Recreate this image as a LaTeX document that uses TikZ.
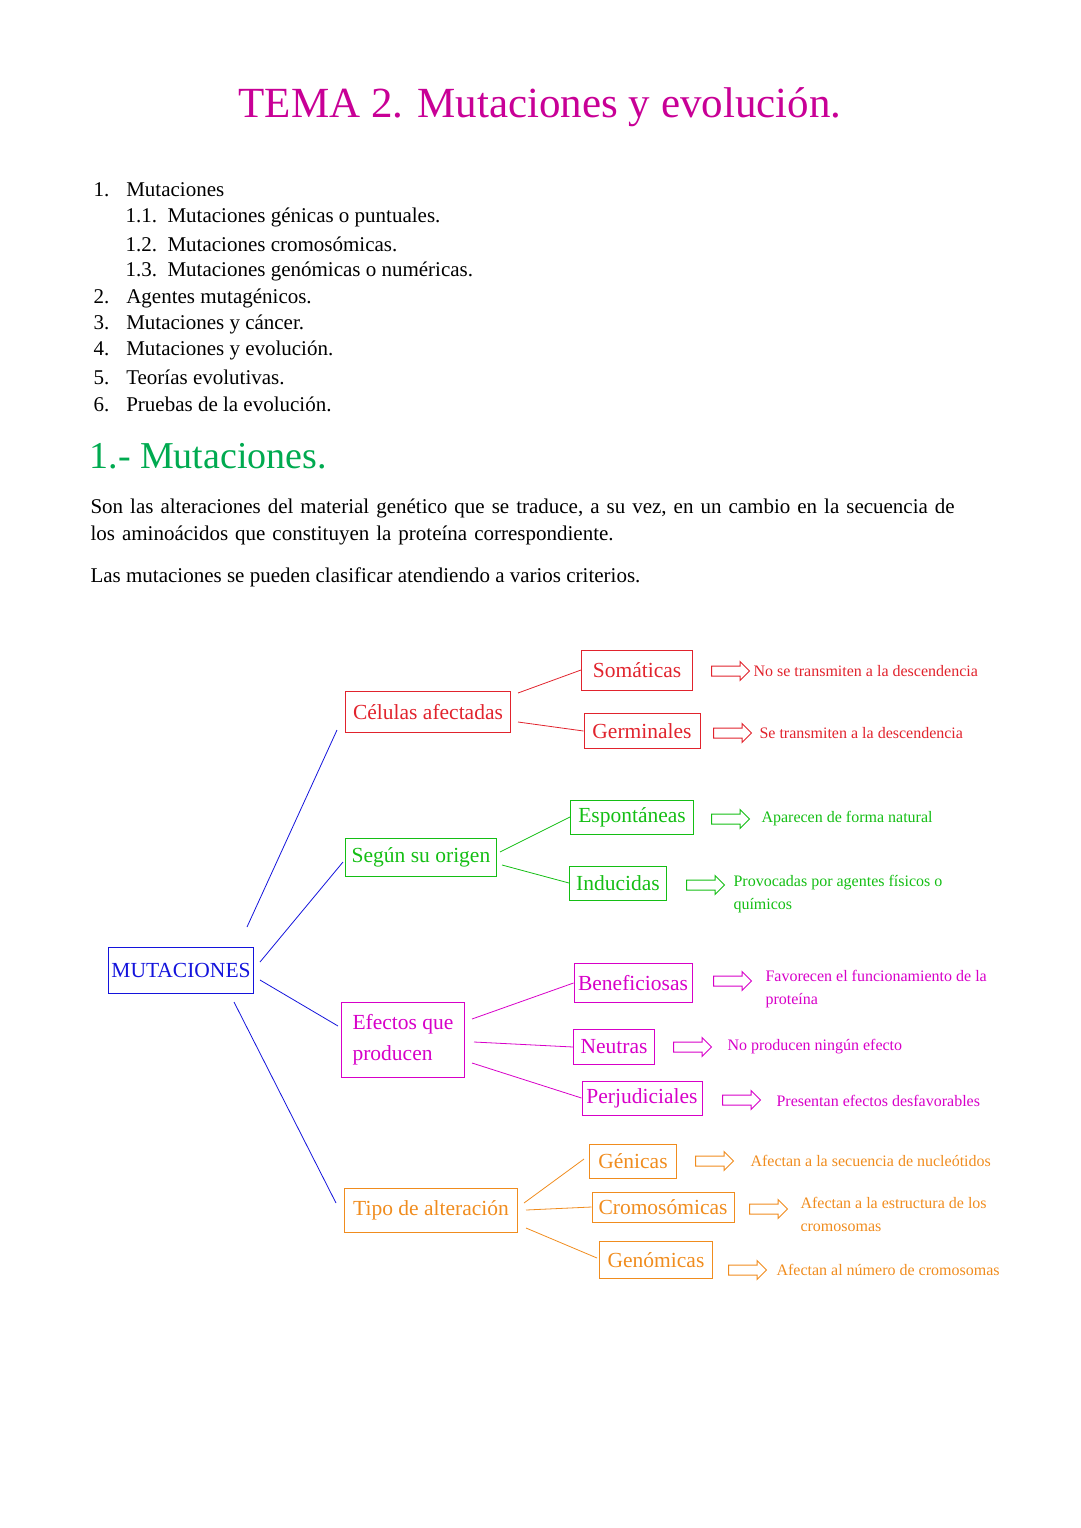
\documentclass[tikz,border=0pt]{standalone}
\usepackage{fontspec}
\setmainfont{Liberation Serif}
\usetikzlibrary{shapes.arrows}
\definecolor{ttl}{RGB}{200,0,150}
\definecolor{hd}{RGB}{0,170,80}
\definecolor{cr}{RGB}{225,35,45}
\definecolor{cg}{RGB}{20,190,20}
\definecolor{cm}{RGB}{215,0,200}
\definecolor{co}{RGB}{240,140,30}
\definecolor{cb}{RGB}{20,20,220}
\tikzset{
 bx/.style={draw=#1,text=#1,line width=1pt,font=\fontsize{21.5}{23}\selectfont,inner sep=3pt,align=left},
 lb/.style={text=#1,font=\fontsize{16}{23}\selectfont,anchor=west,align=left},
 ar/.style={single arrow,draw=#1,line width=1pt,minimum width=19pt,single arrow head extend=4.5pt,minimum height=38pt,inner xsep=0pt,inner ysep=4.5pt},
 ln/.style={draw=#1,line width=0.8pt},
 body/.style={anchor=west,font=\fontsize{21}{27}\selectfont}
}
\begin{document}
\begin{tikzpicture}[x=1pt,y=-1pt]
\useasboundingbox (0,0) rectangle (1080,1528);
\node[text=ttl,font=\fontsize{43}{45}\selectfont] (title) at (540,107) {TEMA 2. Mutaciones y evolución.};
\node[body] (i1) at (90,190) {1.\hspace{17pt}Mutaciones};
\node[body] (i11) at (122,217) {1.1.\ \ Mutaciones génicas o puntuales.};
\node[body] (i12) at (122,244) {1.2.\ \ Mutaciones cromosómicas.};
\node[body] (i13) at (122,271) {1.3.\ \ Mutaciones genómicas o numéricas.};
\node[body] (i2) at (90,298) {2.\hspace{17pt}Agentes mutagénicos.};
\node[body] (i3) at (90,324) {3.\hspace{17pt}Mutaciones y cáncer.};
\node[body] (i4) at (90,350) {4.\hspace{17pt}Mutaciones y evolución.};
\node[body] (i5) at (90,377) {5.\hspace{17pt}Teorías evolutivas.};
\node[body] (i6) at (90,404) {6.\hspace{17pt}Pruebas de la evolución.};
\node[text=hd,anchor=west,font=\fontsize{38}{40}\selectfont] (h1) at (86,456) {1.- Mutaciones.};
\node[body,text width=900pt,align=left] (p1) at (87,522) {Son las alteraciones del material genético que se traduce, a su vez, en un cambio en la secuencia de\\los aminoácidos que constituyen la proteína correspondiente.};
\node[body] (p2) at (87,577) {Las mutaciones se pueden clasificar atendiendo a varios criterios.};

\node[bx=cb,minimum width=145pt,minimum height=46pt,inner sep=1pt] (mut) at (181,970) {MUTACIONES};
\node[bx=cr,minimum width=165pt,minimum height=41pt] (cel) at (428,712) {Células afectadas};
\node[bx=cr,minimum width=111pt,minimum height=40pt] (som) at (637,670) {Somáticas};
\node[bx=cr,minimum width=116pt,minimum height=35pt] (ger) at (642,731) {Germinales};
\node[bx=cg,minimum width=151pt,minimum height=38pt,inner sep=2pt] (seg) at (421,857) {Según su origen};
\node[bx=cg,minimum width=123pt,minimum height=34pt,inner sep=2pt] (esp) at (632,817) {Espontáneas};
\node[bx=cg,minimum width=97pt,minimum height=34pt,inner sep=2pt] (ind) at (618,883) {Inducidas};
\node[bx=cm,minimum width=123pt,minimum height=75pt,align=left,font=\fontsize{21.5}{31}\selectfont] (efe) at (403,1040) {Efectos que\\producen};
\node[bx=cm,minimum width=118pt,minimum height=39pt,inner sep=2pt] (ben) at (633,983) {Beneficiosas};
\node[bx=cm,minimum width=81pt,minimum height=35pt,inner sep=2pt] (neu) at (614,1047) {Neutras};
\node[bx=cm,minimum width=120pt,minimum height=34pt,inner sep=2pt] (per) at (642,1098) {Perjudiciales};
\node[bx=co,minimum width=173pt,minimum height=44pt,inner sep=2pt] (tip) at (431,1210) {Tipo de alteración};
\node[bx=co,minimum width=87pt,minimum height=34pt,inner sep=2pt] (gen) at (633,1161) {Génicas};
\node[bx=co,minimum width=142pt,minimum height=30pt,inner sep=2pt] (cro) at (663,1207) {Cromosómicas};
\node[bx=co,minimum width=113pt,minimum height=37pt,inner sep=2pt] (gno) at (656,1260) {Genómicas};

% connectors
\coordinate (a1) at (247,927); \coordinate (a2) at (337,730);
\coordinate (b1) at (260,962); \coordinate (b2) at (343,862);
\coordinate (c1) at (260,980); \coordinate (c2) at (338,1026);
\coordinate (d1) at (234,1002); \coordinate (d2) at (336,1203);
\draw[ln=cb] (a1)--(a2); \draw[ln=cb] (b1)--(b2); \draw[ln=cb] (c1)--(c2); \draw[ln=cb] (d1)--(d2);
\draw[ln=cr] (518,693)--(som.west); \draw[ln=cr] (518,722)--(ger.west);
\draw[ln=cg] (500,852)--(esp.west); \draw[ln=cg] (502,865)--(ind.west);
\draw[ln=cm] (472,1019)--(ben.west); \draw[ln=cm] (474,1042)--(neu.west); \draw[ln=cm] (472,1063)--(per.west);
\draw[ln=co] (524,1203)--(584,1159); \draw[ln=co] (526,1210)--(cro.west); \draw[ln=co] (526,1228)--(597,1258);

% arrows and labels
\node[ar=cr] (x1) at (728,671) {}; \node[lb=cr] (t1) at (750,671) {No se transmiten a la descendencia};
\node[ar=cr] (x2) at (730,733) {}; \node[lb=cr] (t2) at (756,733) {Se transmiten a la descendencia};
\node[ar=cg] (x3) at (728,819) {}; \node[lb=cg] (t3) at (758,819) {Aparecen de forma natural};
\node[ar=cg] (x4) at (703,885) {}; \node[lb=cg,anchor=north west] (t4) at (730,872) {Provocadas por agentes físicos o\\químicos};
\node[ar=cm] (x5) at (730,981) {}; \node[lb=cm,anchor=north west] (t5) at (762,967) {Favorecen el funcionamiento de la\\proteína};
\node[ar=cm] (x6) at (690,1047) {}; \node[lb=cm] (t6) at (724,1047) {No producen ningún efecto};
\node[ar=cm] (x7) at (739,1100) {}; \node[lb=cm] (t7) at (773,1101) {Presentan efectos desfavorables};
\node[ar=co] (x8) at (712,1161) {}; \node[lb=co] (t8) at (747,1161) {Afectan a la secuencia de nucleótidos};
\node[ar=co] (x9) at (766,1209) {}; \node[lb=co,anchor=north west] (t9) at (797,1194) {Afectan a la estructura de los\\cromosomas};
\node[ar=co] (x10) at (745,1270) {}; \node[lb=co] (t10) at (773,1270) {Afectan al número de cromosomas};
\end{tikzpicture}
\end{document}
